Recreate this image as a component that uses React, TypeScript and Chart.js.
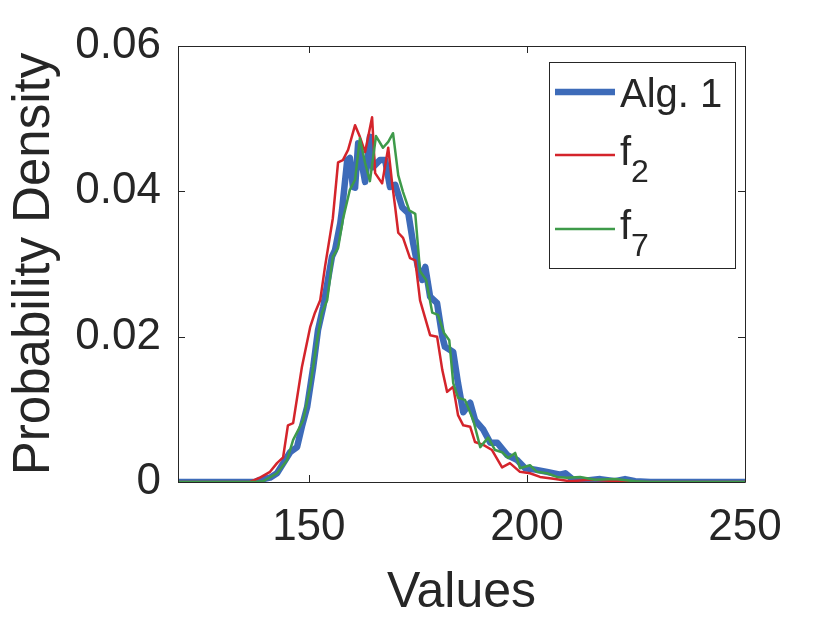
import React, { useEffect, useRef } from "react";
import { Chart, registerables } from "chart.js";

Chart.register(...registerables);

const FONT = '"Liberation Sans", Arial, Helvetica, sans-serif';
const INK = "#262626";

// Axis ticks
const xTickValues = [150, 200, 250];
const xTickLabels = ["150", "200", "250"];
const yTickValues = [0, 0.02, 0.04, 0.06];
const yTickLabels = ["0", "0.02", "0.04", "0.06"];

// Legend names (base text + subscript)
const seriesNames = ["Alg. 1", "f", "f"];
const seriesSubs = ["", "2", "7"];

// Alg. 1
const algX = [120, 137.7, 138.8, 141.1, 142.7, 145.0, 145.7, 147.3, 148.4, 149.6, 151.0, 152.1, 153.3, 155.3, 156.0, 157.2, 157.6, 158.8, 159.4, 160.1, 160.6, 161.3, 162.9, 164.0, 164.7, 166.3, 167.5, 168.6, 169.8, 171.4, 172.8, 173.9, 175.0, 176.0, 176.7, 177.8, 179.4, 180.6, 181.2, 183.1, 184.2, 185.4, 187.0, 188.1, 190.0, 191.6, 193.2, 195.5, 197.8, 199.6, 201.9, 204.6, 207.6, 208.8, 210.6, 212.2, 216.8, 220.2, 222.5, 224.8, 228.3, 250];
const algY = [0, 0, 0.0003, 0.0006, 0.0012, 0.0034, 0.0041, 0.0048, 0.0076, 0.0103, 0.0158, 0.0209, 0.0241, 0.031, 0.0319, 0.0356, 0.0374, 0.0443, 0.0446, 0.0406, 0.0405, 0.0466, 0.0413, 0.0475, 0.0433, 0.0443, 0.0443, 0.0406, 0.0409, 0.0378, 0.037, 0.0329, 0.0296, 0.0278, 0.0296, 0.0255, 0.0246, 0.02, 0.0186, 0.0179, 0.0136, 0.0096, 0.0109, 0.0085, 0.0072, 0.0054, 0.0054, 0.0037, 0.003, 0.0019, 0.0017, 0.0014, 0.001, 0.0012, 0.0003, 0.0001, 0.0004, 0.0001, 0.0004, 0.0001, 0, 0];

// f2
const f2X = [120, 136.5, 138.8, 141.1, 142.7, 144.1, 145.2, 146.4, 148.4, 150.3, 151.4, 152.6, 153.7, 155.5, 156.7, 157.8, 159.0, 160.6, 161.7, 162.9, 164.5, 165.2, 166.8, 168.2, 169.1, 169.8, 170.5, 171.6, 173.2, 174.4, 175.5, 177.8, 179.4, 180.6, 181.7, 183.1, 184.2, 185.4, 187.0, 188.1, 190.0, 192.0, 194.3, 196.1, 198.4, 200.7, 203.0, 206.5, 209.9, 214.5, 221.4, 226, 250];
const f2Y = [0, 0, 0.0006, 0.0014, 0.0026, 0.0034, 0.0078, 0.0081, 0.0158, 0.0213, 0.0233, 0.025, 0.0296, 0.0363, 0.044, 0.0443, 0.0457, 0.0491, 0.0475, 0.0454, 0.0502, 0.0425, 0.0411, 0.046, 0.0411, 0.0378, 0.0343, 0.0336, 0.0308, 0.0305, 0.025, 0.0202, 0.02, 0.0154, 0.0124, 0.0131, 0.0092, 0.0078, 0.0076, 0.0055, 0.0051, 0.0044, 0.002, 0.0026, 0.0014, 0.0012, 0.0007, 0.0004, 0.0001, 0.0003, 0.0001, 0, 0];

// f7
const f7X = [120, 137.7, 139.5, 142.7, 145.0, 146.4, 148.7, 150.3, 151.9, 153.0, 154.2, 155.5, 156.7, 157.8, 158.3, 159.4, 160.6, 161.7, 162.9, 164.0, 165.4, 167.0, 168.2, 169.3, 170.5, 171.6, 173.0, 174.4, 175.5, 176.9, 178.3, 179.6, 181.0, 182.2, 183.1, 184.2, 185.8, 187.7, 189.3, 191.1, 192.7, 194.3, 195.7, 197.3, 198.4, 200.7, 202.3, 204.6, 206.9, 209.2, 212.2, 215.6, 220.2, 224.8, 228.3, 250];
const f7Y = [0, 0, 0.0001, 0.0012, 0.003, 0.0058, 0.0085, 0.0131, 0.0195, 0.0233, 0.025, 0.031, 0.0322, 0.0361, 0.0374, 0.0402, 0.0416, 0.0473, 0.0439, 0.0414, 0.0476, 0.046, 0.0468, 0.048, 0.0422, 0.0399, 0.0374, 0.0369, 0.029, 0.0278, 0.0233, 0.023, 0.0205, 0.0195, 0.0136, 0.0116, 0.0113, 0.0085, 0.0048, 0.0061, 0.0044, 0.0041, 0.0033, 0.004, 0.0019, 0.0023, 0.0014, 0.0012, 0.0007, 0.0006, 0.0007, 0.0003, 0.0004, 0.0001, 0, 0];

const zip = (xs: number[], ys: number[]) =>
  xs.slice(0, Math.min(xs.length, ys.length)).map((x, i) => ({ x, y: ys[i] }));

const COLORS = ["#3D6BB9", "#D4242B", "#3E9A4A"];
const WIDTHS = [6.5, 2.5, 2.5];

const boxPlugin = {
  id: "matlabBox",
  afterDatasetsDraw(chart: any) {
    const { ctx, chartArea: a, scales } = chart;
    const xs = scales.x;
    const ys = scales.y;
    const TL = 7;
    ctx.save();
    ctx.strokeStyle = INK;
    ctx.lineWidth = 1;
    ctx.beginPath();
    ctx.rect(Math.round(a.left) + 0.5, Math.round(a.top) + 0.5, Math.round(a.right - a.left), Math.round(a.bottom - a.top));
    ctx.stroke();
    ctx.beginPath();
    for (const v of xTickValues) {
      const px = Math.round(xs.getPixelForValue(v)) + 0.5;
      ctx.moveTo(px, a.bottom);
      ctx.lineTo(px, a.bottom - TL);
      ctx.moveTo(px, a.top);
      ctx.lineTo(px, a.top + TL);
    }
    for (const v of yTickValues) {
      const py = Math.round(ys.getPixelForValue(v)) + 0.5;
      ctx.moveTo(a.left, py);
      ctx.lineTo(a.left + TL, py);
      ctx.moveTo(a.right, py);
      ctx.lineTo(a.right - TL, py);
    }
    ctx.stroke();
    ctx.restore();
  },
  afterDraw(chart: any) {
    const { ctx, chartArea: a } = chart;
    const bx = a.right - 196;
    const by = a.top + 16;
    const bw = 186;
    const bh = 206;
    ctx.save();
    ctx.fillStyle = "#ffffff";
    ctx.fillRect(bx, by, bw, bh);
    ctx.strokeStyle = INK;
    ctx.lineWidth = 1;
    ctx.strokeRect(Math.round(bx) + 0.5, Math.round(by) + 0.5, bw, bh);
    const rowY = [by + 30, by + 93, by + 167];
    chart.data.datasets.forEach((ds: any, i: number) => {
      const y = rowY[i];
      ctx.strokeStyle = ds.borderColor;
      ctx.lineWidth = ds.borderWidth;
      ctx.beginPath();
      ctx.moveTo(bx + 6, y);
      ctx.lineTo(bx + 66, y);
      ctx.stroke();
      ctx.fillStyle = INK;
      ctx.textAlign = "left";
      if (!seriesSubs[i]) {
        ctx.font = `40px ${FONT}`;
        ctx.textBaseline = "alphabetic";
        ctx.fillText(seriesNames[i], bx + 71, y + 15);
      } else {
        ctx.font = `40px ${FONT}`;
        ctx.textBaseline = "alphabetic";
        ctx.fillText(seriesNames[i], bx + 71, y + 10);
        const w = ctx.measureText(seriesNames[i]).width;
        ctx.font = `32px ${FONT}`;
        ctx.fillText(seriesSubs[i], bx + 71 + w, y + 27);
      }
    });
    ctx.restore();
  },
};

export default function App() {
  const ref = useRef<HTMLCanvasElement>(null);
  useEffect(() => {
    if (!ref.current) return;
    const chart = new Chart(ref.current, {
      type: "line",
      data: {
        datasets: [
          { label: "Alg. 1", data: zip(algX, algY), borderColor: COLORS[0], borderWidth: WIDTHS[0], order: 3 },
          { label: "f₂", data: zip(f2X, f2Y), borderColor: COLORS[1], borderWidth: WIDTHS[1], order: 2 },
          { label: "f₇", data: zip(f7X, f7Y), borderColor: COLORS[2], borderWidth: WIDTHS[2], order: 1 },
        ].map((d) => ({ ...d, pointRadius: 0, tension: 0, fill: false, borderJoinStyle: "round" as const, borderCapStyle: "round" as const })),
      },
      options: {
        animation: false,
        responsive: false,
        devicePixelRatio: 1,
        layout: { padding: { left: 0, right: 85, top: 46, bottom: 0 } },
        plugins: { legend: { display: false }, tooltip: { enabled: false } },
        scales: {
          x: {
            type: "linear",
            min: 120,
            max: 250,
            grid: { display: false, drawTicks: false },
            border: { display: false },
            afterBuildTicks: (axis: any) => {
              axis.ticks = xTickValues.map((v) => ({ value: v }));
            },
            afterFit: (axis: any) => {
              axis.height = 141;
            },
            ticks: {
              padding: 19,
              color: INK,
              font: { family: FONT, size: 44 },
              maxRotation: 0,
              callback: (v: any) => {
                const i = xTickValues.indexOf(Number(v));
                return i >= 0 ? xTickLabels[i] : "";
              },
            },
            title: {
              display: true,
              text: "Values",
              color: INK,
              font: { family: FONT, size: 50 },
              padding: { top: 0, bottom: 0 },
            },
          },
          y: {
            type: "linear",
            min: 0,
            max: 0.06,
            grid: { display: false, drawTicks: false },
            border: { display: false },
            afterBuildTicks: (axis: any) => {
              axis.ticks = yTickValues.map((v) => ({ value: v }));
            },
            afterFit: (axis: any) => {
              axis.width = 178;
            },
            ticks: {
              padding: 17,
              color: INK,
              font: { family: FONT, size: 44 },
              callback: (v: any) => {
                const i = yTickValues.findIndex((t) => Math.abs(t - Number(v)) < 1e-9);
                return i >= 0 ? yTickLabels[i] : "";
              },
            },
            title: {
              display: true,
              text: "Probability Density",
              color: INK,
              font: { family: FONT, size: 51 },
              padding: { top: 4, bottom: 0 },
            },
          },
        },
      },
      plugins: [boxPlugin],
    });
    return () => chart.destroy();
  }, []);
  return (
    <div style={{ position: "absolute", left: 0, top: 0, width: 830, height: 623, background: "#fff" }}>
      <canvas ref={ref} width={830} height={623} style={{ display: "block", width: 830, height: 623 }} />
    </div>
  );
}
